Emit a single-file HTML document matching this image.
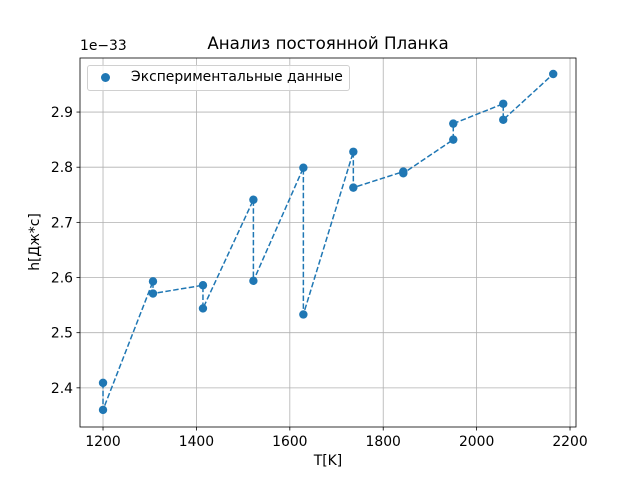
<!DOCTYPE html>
<html><head><meta charset="utf-8"><style>body{margin:0;background:#fff}svg{font-family:"DejaVu Sans","Liberation Sans",sans-serif}</style></head>
<body>
<svg id="c" width="640" height="480" xmlns="http://www.w3.org/2000/svg"></svg>
<script>
const temps=[1200,1200,1307,1307,1414,1414,1522,1522,1629,1629,1736,1736,1843,1843,1950,1950,2057,2057,2164];
const hvals=[2.409,2.360,2.593,2.571,2.586,2.544,2.741,2.594,2.799,2.533,2.828,2.763,2.792,2.789,2.850,2.879,2.915,2.886,2.969];
const xticks=[1200,1400,1600,1800,2000,2200];
const yticks=[2.4,2.5,2.6,2.7,2.8,2.9];
const L=80,R=576,T=58,B=427,x0=1150.7,x1=2212.8,y0=2.329,y1=2.998;
const sx=v=>L+(v-x0)/(x1-x0)*(R-L), sy=v=>B-(v-y0)/(y1-y0)*(B-T);
const svg=document.getElementById('c');const NS='http://www.w3.org/2000/svg';
function mk(t,a,p){const e=document.createElementNS(NS,t);for(const k in a)e.setAttribute(k,a[k]);(p||svg).appendChild(e);return e;}
xticks.forEach(v=>{const g=mk('g',{});


mk('line',{x1:sx(v),x2:sx(v),y1:T,y2:B,stroke:'#b0b0b0','stroke-width':0.8},g);
mk('line',{x1:sx(v),x2:sx(v),y1:B,y2:B+3.5,stroke:'#000','stroke-width':0.8},g);
const t=mk('text',{x:sx(v),y:B+19,'text-anchor':'middle','font-size':13.9},g);t.textContent=v;});
yticks.forEach(v=>{const g=mk('g',{});


mk('line',{x1:L,x2:R,y1:sy(v),y2:sy(v),stroke:'#b0b0b0','stroke-width':0.8},g);
mk('line',{x1:L-3.5,x2:L,y1:sy(v),y2:sy(v),stroke:'#000','stroke-width':0.8},g);
const t=mk('text',{x:L-7,y:sy(v)+5,'text-anchor':'end','font-size':13.9},g);t.textContent=v.toFixed(1);});
const pl=mk('polyline',{points:temps.map((t,i)=>sx(t)+','+sy(hvals[i])).join(' '),fill:'none',stroke:'#1f77b4','stroke-width':1.5,'stroke-dasharray':'5.5,2.4'});


temps.forEach((t,i)=>{const c=mk('circle',{cx:sx(t),cy:sy(hvals[i]),r:4.2,fill:'#1f77b4'});

});
const fr=mk('rect',{x:L,y:T,width:R-L,height:B-T,fill:'none',stroke:'#000','stroke-width':0.8});


</script>
<div style="position:absolute;left:0;top:0;width:640px;height:480px;pointer-events:none;font-family:'DejaVu Sans','Liberation Sans',sans-serif">
<div style="position:absolute;left:80px;width:496px;top:33px;text-align:center;font-size:16.7px">Анализ постоянной Планка</div>
<div style="position:absolute;left:80px;top:38px;font-size:13.9px">1e−33</div>
<div style="position:absolute;left:80px;width:496px;top:453px;text-align:center;font-size:13.9px">T[K]</div>
<div style="position:absolute;left:-5px;top:234px;width:80px;text-align:center;font-size:13.9px;transform:rotate(-90deg)">h[Дж*с]</div>
<div style="position:absolute;left:87px;top:65px;width:261px;height:24px;border:1px solid #d0d0d0;border-radius:3px;background:rgba(255,255,255,0.8);font-size:13.9px">
<span style="position:absolute;left:13px;top:7px;width:9px;height:9px;border-radius:50%;background:#1f77b4"></span>
<span style="position:absolute;left:43px;top:3px">Экспериментальные данные</span></div>
</div>
</body></html>
